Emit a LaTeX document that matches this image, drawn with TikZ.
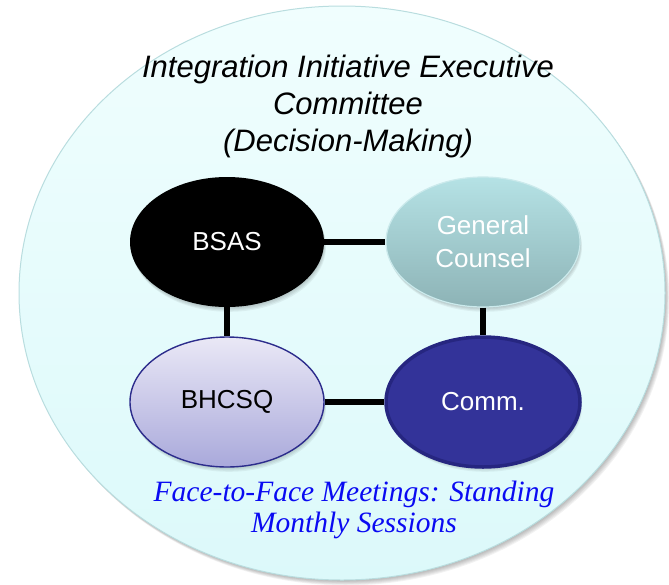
\documentclass[tikz,border=0pt]{standalone}
\usepackage{fontspec}
\setmainfont{Liberation Sans}
\newfontfamily\notefont{Liberation Serif}
\usetikzlibrary{shapes.geometric}

\definecolor{panelTop}{HTML}{F0FEFE}
\definecolor{panelBot}{HTML}{DCF9FA}
\definecolor{panelEdge}{HTML}{B9DDDF}
\definecolor{gcTop}{HTML}{B5E2E5}
\definecolor{gcBot}{HTML}{8DB3B6}
\definecolor{gcEdge}{HTML}{CBEAEC}
\definecolor{bhTop}{HTML}{EAE8F6}
\definecolor{bhBot}{HTML}{A9A9DB}
\definecolor{bhEdge}{HTML}{2C2C8C}
\definecolor{commFill}{HTML}{333399}
\definecolor{commEdge}{HTML}{262680}
\definecolor{noteBlue}{HTML}{0A0AF2}

\tikzset{
  unit/.style={ellipse, minimum width=194pt, minimum height=130pt, inner sep=0pt,
    align=center, font=\fontsize{26}{33}\selectfont},
  bsasunit/.style={unit, fill=black, text=white},
  gcunit/.style={unit, top color=gcTop, bottom color=gcBot, draw=gcEdge, line width=1.2pt, text=white},
  bhunit/.style={unit, top color=bhTop, bottom color=bhBot, draw=bhEdge, line width=1.4pt, text=black},
  communit/.style={unit, fill=commFill, draw=commEdge, line width=3.5pt, text=white},
  link/.style={line width=5.5pt, black},
}

\begin{document}
\begin{tikzpicture}[x=1pt, y=-1pt]
\useasboundingbox (0,0) rectangle (669,584);

% soft shadow under the committee panel
\foreach \k in {1,...,6}
  \fill[black, opacity=0.05] (342+0.7*\k,293+0.9*\k) ellipse[x radius=323, y radius=287];
% committee panel
\shade[top color=panelTop, bottom color=panelBot, draw=panelEdge, line width=1pt]
  (342,293) ellipse[x radius=323, y radius=287];

% heading
\node (head) at (348,106) [align=center, font=\fontsize{31}{37}\selectfont\itshape]
  {Integration Initiative Executive\\Committee\\(Decision-Making)};

% soft shadows under the four units
\foreach \cx/\cy in {227/242, 483/242, 227/402, 483/402}
  \foreach \k in {1,...,4}
    \fill[black, opacity=0.05] (\cx+0.5*\k,\cy+1.2*\k) ellipse[x radius=97, y radius=65];

% units
\node[bsasunit] (bsas) at (227,242) {BSAS};
\node[gcunit]   (gc)   at (483,242) {General\\Counsel};
\node[bhunit]   (bh)   at (227,402) {BHCSQ};
\node[communit] (comm) at (483,402) {Comm.};

% links between units
\draw[link] (bsas.east) -- (gc.west);
\draw[link] (bsas.south) -- (bh.north);
\draw[link] (gc.south) -- (comm.north);
\draw[link] (bh.east) -- (comm.west);

% meeting note
\node (note) at (354,510) [align=center, text=noteBlue,
  font=\notefont\fontsize{29.5}{31}\selectfont\itshape]
  {Face-to-Face Meetings: Standing\\Monthly Sessions};
\end{tikzpicture}
\end{document}
